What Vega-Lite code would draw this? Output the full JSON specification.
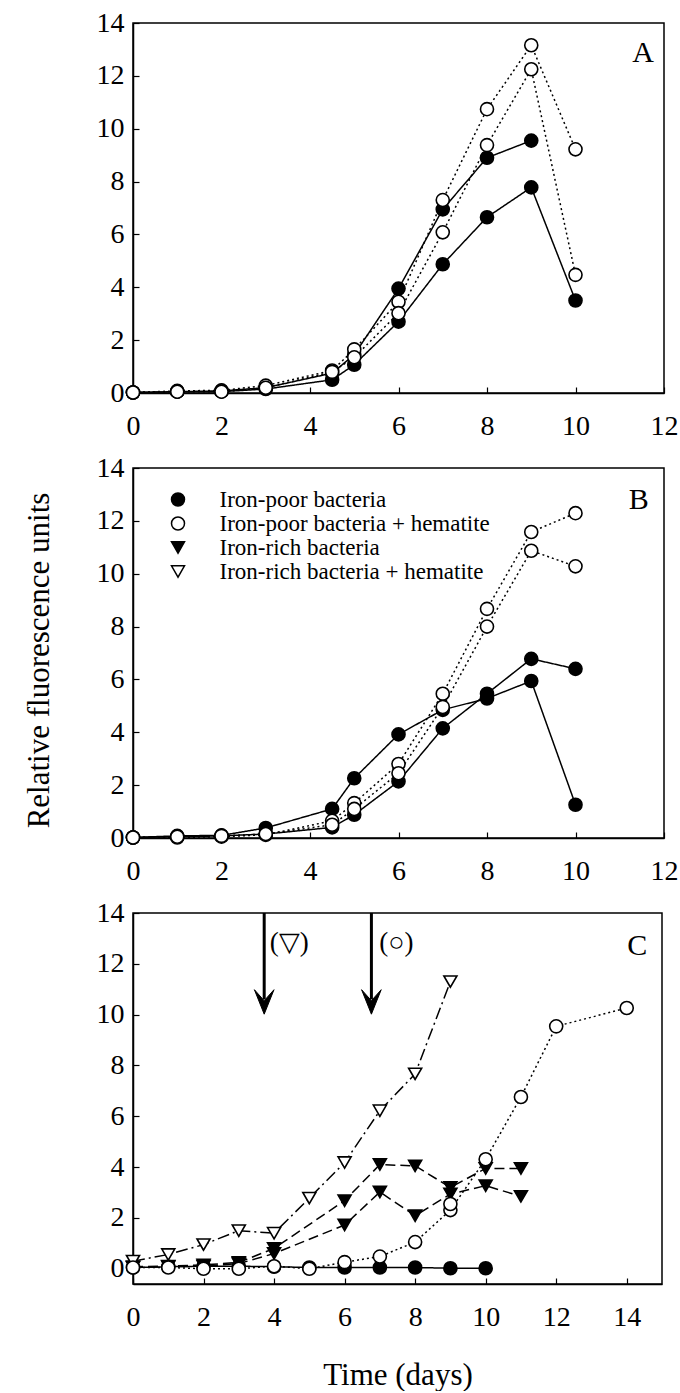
{
 "$schema": "https://vega.github.io/schema/vega-lite/v6.json",
 "padding": {"left": 22, "top": 8, "right": 0, "bottom": 0},
 "background": "white",
 "spacing": 75,
 "bounds": "flush",
 "resolve": {"scale": {"strokeDash": "independent"}, "legend": {"shape": "independent", "fill": "independent", "strokeDash": "independent"}},
 "data": {"values": [
  {"p":"A","s":"Iron-poor bacteria","r":1,"x":0,"y":0.02},{"p":"A","s":"Iron-poor bacteria","r":1,"x":1,"y":0.05},{"p":"A","s":"Iron-poor bacteria","r":1,"x":2,"y":0.05},{"p":"A","s":"Iron-poor bacteria","r":1,"x":3,"y":0.15},{"p":"A","s":"Iron-poor bacteria","r":1,"x":4.5,"y":0.5},{"p":"A","s":"Iron-poor bacteria","r":1,"x":5,"y":1.07},{"p":"A","s":"Iron-poor bacteria","r":1,"x":6,"y":2.7},{"p":"A","s":"Iron-poor bacteria","r":1,"x":7,"y":4.87},{"p":"A","s":"Iron-poor bacteria","r":1,"x":8,"y":6.65},{"p":"A","s":"Iron-poor bacteria","r":1,"x":9,"y":7.78},{"p":"A","s":"Iron-poor bacteria","r":1,"x":10,"y":3.5},
  {"p":"A","s":"Iron-poor bacteria","r":2,"x":0,"y":0.02},{"p":"A","s":"Iron-poor bacteria","r":2,"x":1,"y":0.05},{"p":"A","s":"Iron-poor bacteria","r":2,"x":2,"y":0.08},{"p":"A","s":"Iron-poor bacteria","r":2,"x":3,"y":0.2},{"p":"A","s":"Iron-poor bacteria","r":2,"x":4.5,"y":0.75},{"p":"A","s":"Iron-poor bacteria","r":2,"x":5,"y":1.45},{"p":"A","s":"Iron-poor bacteria","r":2,"x":6,"y":3.95},{"p":"A","s":"Iron-poor bacteria","r":2,"x":7,"y":6.95},{"p":"A","s":"Iron-poor bacteria","r":2,"x":8,"y":8.9},{"p":"A","s":"Iron-poor bacteria","r":2,"x":9,"y":9.55},
  {"p":"A","s":"Iron-poor bacteria + hematite","r":1,"x":0,"y":0.02},{"p":"A","s":"Iron-poor bacteria + hematite","r":1,"x":1,"y":0.08},{"p":"A","s":"Iron-poor bacteria + hematite","r":1,"x":2,"y":0.1},{"p":"A","s":"Iron-poor bacteria + hematite","r":1,"x":3,"y":0.28},{"p":"A","s":"Iron-poor bacteria + hematite","r":1,"x":4.5,"y":0.85},{"p":"A","s":"Iron-poor bacteria + hematite","r":1,"x":5,"y":1.65},{"p":"A","s":"Iron-poor bacteria + hematite","r":1,"x":6,"y":3.45},{"p":"A","s":"Iron-poor bacteria + hematite","r":1,"x":7,"y":7.3},{"p":"A","s":"Iron-poor bacteria + hematite","r":1,"x":8,"y":10.74},{"p":"A","s":"Iron-poor bacteria + hematite","r":1,"x":9,"y":13.16},{"p":"A","s":"Iron-poor bacteria + hematite","r":1,"x":10,"y":9.22},
  {"p":"A","s":"Iron-poor bacteria + hematite","r":2,"x":0,"y":0.02},{"p":"A","s":"Iron-poor bacteria + hematite","r":2,"x":1,"y":0.05},{"p":"A","s":"Iron-poor bacteria + hematite","r":2,"x":2,"y":0.05},{"p":"A","s":"Iron-poor bacteria + hematite","r":2,"x":3,"y":0.2},{"p":"A","s":"Iron-poor bacteria + hematite","r":2,"x":4.5,"y":0.8},{"p":"A","s":"Iron-poor bacteria + hematite","r":2,"x":5,"y":1.35},{"p":"A","s":"Iron-poor bacteria + hematite","r":2,"x":6,"y":3.02},{"p":"A","s":"Iron-poor bacteria + hematite","r":2,"x":7,"y":6.08},{"p":"A","s":"Iron-poor bacteria + hematite","r":2,"x":8,"y":9.38},{"p":"A","s":"Iron-poor bacteria + hematite","r":2,"x":9,"y":12.25},{"p":"A","s":"Iron-poor bacteria + hematite","r":2,"x":10,"y":4.47},
  {"p":"B","s":"Iron-poor bacteria","r":1,"x":0,"y":0.02},{"p":"B","s":"Iron-poor bacteria","r":1,"x":1,"y":0.08},{"p":"B","s":"Iron-poor bacteria","r":1,"x":2,"y":0.1},{"p":"B","s":"Iron-poor bacteria","r":1,"x":3,"y":0.38},{"p":"B","s":"Iron-poor bacteria","r":1,"x":4.5,"y":1.1},{"p":"B","s":"Iron-poor bacteria","r":1,"x":5,"y":2.26},{"p":"B","s":"Iron-poor bacteria","r":1,"x":6,"y":3.92},{"p":"B","s":"Iron-poor bacteria","r":1,"x":7,"y":4.85},{"p":"B","s":"Iron-poor bacteria","r":1,"x":8,"y":5.28},{"p":"B","s":"Iron-poor bacteria","r":1,"x":9,"y":5.94},{"p":"B","s":"Iron-poor bacteria","r":1,"x":10,"y":1.26},
  {"p":"B","s":"Iron-poor bacteria","r":2,"x":0,"y":0.02},{"p":"B","s":"Iron-poor bacteria","r":2,"x":1,"y":0.05},{"p":"B","s":"Iron-poor bacteria","r":2,"x":2,"y":0.08},{"p":"B","s":"Iron-poor bacteria","r":2,"x":3,"y":0.15},{"p":"B","s":"Iron-poor bacteria","r":2,"x":4.5,"y":0.4},{"p":"B","s":"Iron-poor bacteria","r":2,"x":5,"y":0.88},{"p":"B","s":"Iron-poor bacteria","r":2,"x":6,"y":2.14},{"p":"B","s":"Iron-poor bacteria","r":2,"x":7,"y":4.15},{"p":"B","s":"Iron-poor bacteria","r":2,"x":8,"y":5.46},{"p":"B","s":"Iron-poor bacteria","r":2,"x":9,"y":6.78},{"p":"B","s":"Iron-poor bacteria","r":2,"x":10,"y":6.4},
  {"p":"B","s":"Iron-poor bacteria + hematite","r":1,"x":0,"y":0.02},{"p":"B","s":"Iron-poor bacteria + hematite","r":1,"x":1,"y":0.02},{"p":"B","s":"Iron-poor bacteria + hematite","r":1,"x":2,"y":0.05},{"p":"B","s":"Iron-poor bacteria + hematite","r":1,"x":3,"y":0.12},{"p":"B","s":"Iron-poor bacteria + hematite","r":1,"x":4.5,"y":0.65},{"p":"B","s":"Iron-poor bacteria + hematite","r":1,"x":5,"y":1.32},{"p":"B","s":"Iron-poor bacteria + hematite","r":1,"x":6,"y":2.8},{"p":"B","s":"Iron-poor bacteria + hematite","r":1,"x":7,"y":5.46},{"p":"B","s":"Iron-poor bacteria + hematite","r":1,"x":8,"y":8.67},{"p":"B","s":"Iron-poor bacteria + hematite","r":1,"x":9,"y":11.58},{"p":"B","s":"Iron-poor bacteria + hematite","r":1,"x":10,"y":12.29},
  {"p":"B","s":"Iron-poor bacteria + hematite","r":2,"x":0,"y":0.02},{"p":"B","s":"Iron-poor bacteria + hematite","r":2,"x":1,"y":0.05},{"p":"B","s":"Iron-poor bacteria + hematite","r":2,"x":2,"y":0.08},{"p":"B","s":"Iron-poor bacteria + hematite","r":2,"x":3,"y":0.15},{"p":"B","s":"Iron-poor bacteria + hematite","r":2,"x":4.5,"y":0.5},{"p":"B","s":"Iron-poor bacteria + hematite","r":2,"x":5,"y":1.1},{"p":"B","s":"Iron-poor bacteria + hematite","r":2,"x":6,"y":2.45},{"p":"B","s":"Iron-poor bacteria + hematite","r":2,"x":7,"y":4.96},{"p":"B","s":"Iron-poor bacteria + hematite","r":2,"x":8,"y":8.0},{"p":"B","s":"Iron-poor bacteria + hematite","r":2,"x":9,"y":10.87},{"p":"B","s":"Iron-poor bacteria + hematite","r":2,"x":10,"y":10.28},
  {"p":"C","s":"Iron-poor bacteria","r":1,"x":0,"y":0.05},{"p":"C","s":"Iron-poor bacteria","r":1,"x":1,"y":0.08},{"p":"C","s":"Iron-poor bacteria","r":1,"x":2,"y":0.1},{"p":"C","s":"Iron-poor bacteria","r":1,"x":3,"y":0.1},{"p":"C","s":"Iron-poor bacteria","r":1,"x":4,"y":0.08},{"p":"C","s":"Iron-poor bacteria","r":1,"x":5,"y":0.05},{"p":"C","s":"Iron-poor bacteria","r":1,"x":6,"y":0.05},{"p":"C","s":"Iron-poor bacteria","r":1,"x":7,"y":0.05},{"p":"C","s":"Iron-poor bacteria","r":1,"x":8,"y":0.05},{"p":"C","s":"Iron-poor bacteria","r":1,"x":9,"y":0.02},{"p":"C","s":"Iron-poor bacteria","r":1,"x":10,"y":0.02},
  {"p":"C","s":"Iron-rich bacteria","r":1,"x":0,"y":0.08},{"p":"C","s":"Iron-rich bacteria","r":1,"x":1,"y":0.1},{"p":"C","s":"Iron-rich bacteria","r":1,"x":2,"y":0.15},{"p":"C","s":"Iron-rich bacteria","r":1,"x":3,"y":0.25},{"p":"C","s":"Iron-rich bacteria","r":1,"x":4,"y":0.8},{"p":"C","s":"Iron-rich bacteria","r":1,"x":6,"y":2.68},{"p":"C","s":"Iron-rich bacteria","r":1,"x":7,"y":4.1},{"p":"C","s":"Iron-rich bacteria","r":1,"x":8,"y":4.05},{"p":"C","s":"Iron-rich bacteria","r":1,"x":9,"y":3.2},{"p":"C","s":"Iron-rich bacteria","r":1,"x":10,"y":3.95},{"p":"C","s":"Iron-rich bacteria","r":1,"x":11,"y":3.95},
  {"p":"C","s":"Iron-rich bacteria","r":2,"x":0,"y":0.05},{"p":"C","s":"Iron-rich bacteria","r":2,"x":1,"y":0.08},{"p":"C","s":"Iron-rich bacteria","r":2,"x":2,"y":0.1},{"p":"C","s":"Iron-rich bacteria","r":2,"x":3,"y":0.2},{"p":"C","s":"Iron-rich bacteria","r":2,"x":4,"y":0.6},{"p":"C","s":"Iron-rich bacteria","r":2,"x":6,"y":1.72},{"p":"C","s":"Iron-rich bacteria","r":2,"x":7,"y":3.02},{"p":"C","s":"Iron-rich bacteria","r":2,"x":8,"y":2.09},{"p":"C","s":"Iron-rich bacteria","r":2,"x":9,"y":2.94},{"p":"C","s":"Iron-rich bacteria","r":2,"x":10,"y":3.27},{"p":"C","s":"Iron-rich bacteria","r":2,"x":11,"y":2.85},
  {"p":"C","s":"Iron-rich bacteria + hematite","r":1,"x":0,"y":0.3},{"p":"C","s":"Iron-rich bacteria + hematite","r":1,"x":1,"y":0.56},{"p":"C","s":"Iron-rich bacteria + hematite","r":1,"x":2,"y":0.95},{"p":"C","s":"Iron-rich bacteria + hematite","r":1,"x":3,"y":1.5},{"p":"C","s":"Iron-rich bacteria + hematite","r":1,"x":4,"y":1.4},{"p":"C","s":"Iron-rich bacteria + hematite","r":1,"x":5,"y":2.78},{"p":"C","s":"Iron-rich bacteria + hematite","r":1,"x":6,"y":4.18},{"p":"C","s":"Iron-rich bacteria + hematite","r":1,"x":7,"y":6.22},{"p":"C","s":"Iron-rich bacteria + hematite","r":1,"x":8,"y":7.67},{"p":"C","s":"Iron-rich bacteria + hematite","r":1,"x":9,"y":11.3},
  {"p":"C","s":"Iron-poor bacteria + hematite","r":1,"x":0,"y":0.05},{"p":"C","s":"Iron-poor bacteria + hematite","r":1,"x":1,"y":0.05},{"p":"C","s":"Iron-poor bacteria + hematite","r":1,"x":2,"y":0.0},{"p":"C","s":"Iron-poor bacteria + hematite","r":1,"x":3,"y":0.0},{"p":"C","s":"Iron-poor bacteria + hematite","r":1,"x":4,"y":0.1},{"p":"C","s":"Iron-poor bacteria + hematite","r":1,"x":5,"y":0.0},{"p":"C","s":"Iron-poor bacteria + hematite","r":1,"x":6,"y":0.26},{"p":"C","s":"Iron-poor bacteria + hematite","r":1,"x":7,"y":0.48},{"p":"C","s":"Iron-poor bacteria + hematite","r":1,"x":8,"y":1.05},{"p":"C","s":"Iron-poor bacteria + hematite","r":1,"x":9,"y":2.31},{"p":"C","s":"Iron-poor bacteria + hematite","r":1,"x":10,"y":4.31},{"p":"C","s":"Iron-poor bacteria + hematite","r":1,"x":11,"y":6.76},{"p":"C","s":"Iron-poor bacteria + hematite","r":1,"x":12,"y":9.54},{"p":"C","s":"Iron-poor bacteria + hematite","r":1,"x":14,"y":10.26},
  {"p":"C","s":"Iron-poor bacteria + hematite","r":2,"x":9,"y":2.55}
 ]},
 "vconcat": [
  {
   "width": 531, "height": 370,
   "layer": [
    {"transform": [{"filter": "datum.p === 'A'"}],
     "mark": {"type": "line", "color": "black", "strokeWidth": 1.5},
     "encoding": {
      "x": {"field": "x", "type": "quantitative", "scale": {"domain": [0, 12], "nice": false, "zero": false}, "axis": {"values": [0,2,4,6,8,10,12], "title": null}},
      "y": {"field": "y", "type": "quantitative", "scale": {"domain": [0, 14], "nice": false}, "axis": {"values": [0,2,4,6,8,10,12,14], "title": null}},
      "strokeDash": {"field": "s", "type": "nominal", "scale": {"domain": ["Iron-poor bacteria","Iron-poor bacteria + hematite","Iron-rich bacteria","Iron-rich bacteria + hematite"], "range": [[1,0],[2,3],[10,5],[12,4,2,4]]}, "legend": null},
      "detail": {"field": "r", "type": "nominal"}
     }},
    {"transform": [{"filter": "datum.p === 'A'"}],
     "mark": {"type": "point", "filled": true, "size": 170, "stroke": "black", "strokeWidth": 1.6, "opacity": 1},
     "encoding": {
      "x": {"field": "x", "type": "quantitative"},
      "y": {"field": "y", "type": "quantitative"},
      "shape": {"field": "s", "type": "nominal", "scale": {"domain": ["Iron-poor bacteria","Iron-poor bacteria + hematite","Iron-rich bacteria","Iron-rich bacteria + hematite"], "range": ["circle","circle","triangle-down","triangle-down"]}, "legend": null},
      "fill": {"field": "s", "type": "nominal", "scale": {"domain": ["Iron-poor bacteria","Iron-poor bacteria + hematite","Iron-rich bacteria","Iron-rich bacteria + hematite"], "range": ["black","white","black","white"]}, "legend": null}
     }},
    {"data": {"values": [{"t": "A"}]},
     "mark": {"type": "text", "fontSize": 30, "font": "Liberation Serif", "color": "black"},
     "encoding": {"x": {"datum": 11.53, "type": "quantitative"}, "y": {"datum": 12.86, "type": "quantitative"}, "text": {"field": "t"}}}
   ]
  },
  {
   "width": 531, "height": 370,
   "layer": [
    {"transform": [{"filter": "datum.p === 'B'"}],
     "mark": {"type": "line", "color": "black", "strokeWidth": 1.5},
     "encoding": {
      "x": {"field": "x", "type": "quantitative", "scale": {"domain": [0, 12], "nice": false, "zero": false}, "axis": {"values": [0,2,4,6,8,10,12], "title": null}},
      "y": {"field": "y", "type": "quantitative", "scale": {"domain": [0, 14], "nice": false}, "axis": {"values": [0,2,4,6,8,10,12,14], "title": "Relative fluorescence units", "titleX": -85, "titleY": 192, "titleBaseline": "alphabetic"}},
      "strokeDash": {"field": "s", "type": "nominal", "scale": {"domain": ["Iron-rich bacteria + hematite","Iron-rich bacteria","Iron-poor bacteria + hematite","Iron-poor bacteria"], "range": [[12,4,2,4],[10,5],[2,3],[1,0]]}, "legend": null},
      "detail": {"field": "r", "type": "nominal"}
     }},
    {"transform": [{"filter": "datum.p === 'B'"}],
     "mark": {"type": "point", "filled": true, "size": 170, "stroke": "black", "strokeWidth": 1.6, "opacity": 1},
     "encoding": {
      "x": {"field": "x", "type": "quantitative"},
      "y": {"field": "y", "type": "quantitative"},
      "shape": {"field": "s", "type": "nominal", "scale": {"domain": ["Iron-poor bacteria","Iron-poor bacteria + hematite","Iron-rich bacteria","Iron-rich bacteria + hematite"], "range": ["circle","circle","triangle-down","triangle-down"]},
       "legend": {"orient": "none", "legendX": 33.5, "legendY": 20, "title": null, "padding": 0, "labelFontSize": 23, "labelFont": "Liberation Serif", "labelColor": "black", "labelLimit": 400, "symbolSize": 169, "labelOffset": 30, "rowPadding": 0}},
      "fill": {"field": "s", "type": "nominal", "scale": {"domain": ["Iron-poor bacteria","Iron-poor bacteria + hematite","Iron-rich bacteria","Iron-rich bacteria + hematite"], "range": ["black","white","black","white"]},
       "legend": {"orient": "none", "legendX": 33.5, "legendY": 20, "title": null, "padding": 0, "labelFontSize": 23, "labelFont": "Liberation Serif", "labelColor": "black", "labelLimit": 400, "symbolSize": 169, "labelOffset": 30, "rowPadding": 0}}
     }},
    {"data": {"values": [{"t": "B"}]},
     "mark": {"type": "text", "fontSize": 30, "font": "Liberation Serif", "color": "black"},
     "encoding": {"x": {"datum": 11.43, "type": "quantitative"}, "y": {"datum": 12.8, "type": "quantitative"}, "text": {"field": "t"}}}
   ]
  },
  {
   "width": 529, "height": 371,
   "layer": [
    {"transform": [{"filter": "datum.p === 'C'"}],
     "mark": {"type": "line", "color": "black", "strokeWidth": 1.5},
     "encoding": {
      "x": {"field": "x", "type": "quantitative", "scale": {"domain": [0, 15], "nice": false, "zero": false}, "axis": {"values": [0,2,4,6,8,10,12,14], "title": "Time (days)", "titleY": 100, "titleBaseline": "alphabetic"}},
      "y": {"field": "y", "type": "quantitative", "scale": {"domain": [-0.6, 14], "nice": false, "zero": false}, "axis": {"values": [0,2,4,6,8,10,12,14], "title": null}},
      "strokeDash": {"field": "s", "type": "nominal", "scale": {"domain": ["Iron-poor bacteria","Iron-poor bacteria + hematite","Iron-rich bacteria","Iron-rich bacteria + hematite"], "range": [[1,0],[2,3],[10,5],[12,4,2,4]]}, "legend": null},
      "detail": {"field": "r", "type": "nominal"}
     }},
    {"transform": [{"filter": "datum.p === 'C'"}],
     "mark": {"type": "point", "filled": true, "size": 170, "stroke": "black", "strokeWidth": 1.6, "opacity": 1},
     "encoding": {
      "x": {"field": "x", "type": "quantitative"},
      "y": {"field": "y", "type": "quantitative"},
      "shape": {"field": "s", "type": "nominal", "scale": {"domain": ["Iron-poor bacteria","Iron-poor bacteria + hematite","Iron-rich bacteria","Iron-rich bacteria + hematite"], "range": ["circle","circle","triangle-down","triangle-down"]}, "legend": null},
      "fill": {"field": "s", "type": "nominal", "scale": {"domain": ["Iron-poor bacteria","Iron-poor bacteria + hematite","Iron-rich bacteria","Iron-rich bacteria + hematite"], "range": ["black","white","black","white"]}, "legend": null}
     }},
    {"data": {"values": [{"ax": 3.72, "lab": "(▽)"}, {"ax": 6.76, "lab": "(○)"}]},
     "layer": [
      {"mark": {"type": "rule", "color": "black", "strokeWidth": 3},
       "encoding": {"x": {"field": "ax", "type": "quantitative"}, "y": {"datum": 14, "type": "quantitative"}, "y2": {"datum": 10.6}}},
      {"mark": {"type": "point", "filled": true, "fill": "black", "stroke": "black", "strokeWidth": 1, "opacity": 1, "size": 600, "shape": "M0,1L-0.8,-1L0,-0.1L0.8,-1Z"},
       "encoding": {"x": {"field": "ax", "type": "quantitative"}, "y": {"datum": 10.5, "type": "quantitative"}}},
      {"mark": {"type": "text", "fontSize": 27, "font": "Liberation Serif", "color": "black", "dx": 25},
       "encoding": {"x": {"field": "ax", "type": "quantitative"}, "y": {"datum": 12.8, "type": "quantitative"}, "text": {"field": "lab"}}}
     ]},
    {"data": {"values": [{"t": "C"}]},
     "mark": {"type": "text", "fontSize": 30, "font": "Liberation Serif", "color": "black"},
     "encoding": {"x": {"datum": 14.3, "type": "quantitative"}, "y": {"datum": 12.7, "type": "quantitative"}, "text": {"field": "t"}}}
   ]
  }
 ],
 "config": {
  "font": "Liberation Serif",
  "view": {"stroke": "black", "strokeWidth": 1.5},
  "axis": {"grid": false, "domainColor": "black", "domainWidth": 1.5, "tickColor": "black", "tickWidth": 1.2, "tickSize": -6, "labelFontSize": 28, "labelColor": "black", "labelFont": "Liberation Serif", "labelFlush": false, "labelOverlap": false, "titleFont": "Liberation Serif", "titleFontWeight": "normal", "titleColor": "black", "titleFontSize": 31},
  "axisX": {"labelPadding": 25},
  "axisY": {"labelPadding": 15}
 }
}
